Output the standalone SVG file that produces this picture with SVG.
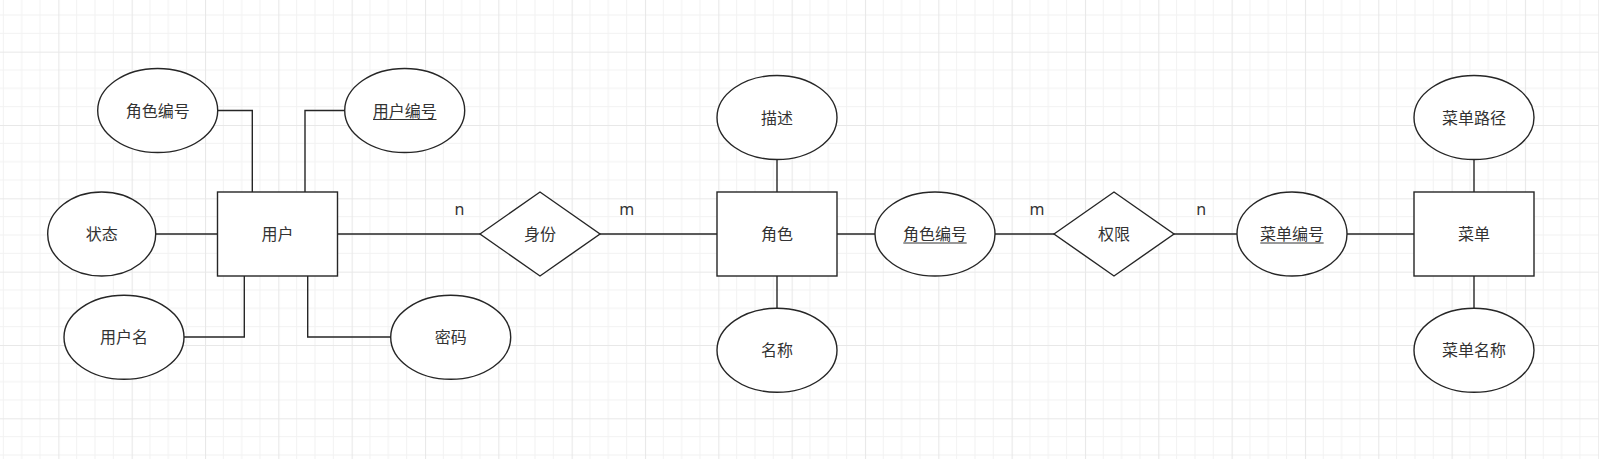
<svg xmlns="http://www.w3.org/2000/svg" width="1599" height="459" viewBox="0 0 1599 459">
<style>
.s{fill:#ffffff;stroke:#262626;stroke-width:1.4}
.c{fill:none;stroke:#262626;stroke-width:1.4}
.t{font-family:"Noto Sans CJK SC","Microsoft YaHei",sans-serif;font-size:16px;fill:#333333;text-anchor:middle}
.l{font-family:"Noto Sans","Liberation Sans",sans-serif;font-size:16px;fill:#333333;text-anchor:middle}
.u{stroke:#333333;stroke-width:1}
</style>
<defs>
<pattern id="grid" patternUnits="userSpaceOnUse" x="58.33" y="51.67" width="73.33" height="73.33">
<path d="M18.33,0V73.33M36.67,0V73.33M55,0V73.33M0,18.33H73.33M0,36.67H73.33M0,55H73.33" stroke="#f2f2f2" stroke-width="1" fill="none"/>
<path d="M0.5,0V73.33M0,0.5H73.33" stroke="#e8e8e8" stroke-width="1.2" fill="none"/>
</pattern>
</defs>
<rect width="1599" height="459" fill="#ffffff"/>
<rect width="1599" height="459" fill="url(#grid)"/>
<g id="connectors">
<path class="c" d="M217.7,110.5H252.3V192"/>
<path class="c" d="M344.7,110.5H305V192"/>
<path class="c" d="M155.7,234H217.5"/>
<path class="c" d="M184,337H244.3V276"/>
<path class="c" d="M307.7,276V337H390.7"/>
<path class="c" d="M337.5,234H480"/>
<path class="c" d="M600,234H717"/>
<path class="c" d="M777,159.5V192"/>
<path class="c" d="M777,276V308.5"/>
<path class="c" d="M837,234H875"/>
<path class="c" d="M995,234H1054"/>
<path class="c" d="M1174,234H1237"/>
<path class="c" d="M1347,234H1414"/>
<path class="c" d="M1474,159.5V192"/>
<path class="c" d="M1474,276V308.5"/>
<text class="l" x="459.5" y="215">n</text>
<text class="l" x="626.8" y="215">m</text>
<text class="l" x="1037" y="215">m</text>
<text class="l" x="1201.3" y="215">n</text>
</g>
<g id="user">
<rect class="s" x="217.5" y="192" width="120" height="84"/>
<text class="t" x="277.5" y="240">用户</text>
</g>
<g id="user-roleid">
<ellipse class="s" cx="157.7" cy="110.5" rx="60" ry="42"/>
<text class="t" x="157.7" y="116.5">角色编号</text>
</g>
<g id="user-id">
<ellipse class="s" cx="404.7" cy="110.5" rx="60" ry="42"/>
<text class="t" x="404.7" y="116.5">用户编号</text>
<line class="u" x1="373" y1="119.5" x2="436.5" y2="119.5"/>
</g>
<g id="user-status">
<ellipse class="s" cx="101.7" cy="234" rx="54" ry="42"/>
<text class="t" x="101.7" y="240">状态</text>
</g>
<g id="user-name">
<ellipse class="s" cx="124" cy="337.3" rx="60" ry="42"/>
<text class="t" x="124" y="343.3">用户名</text>
</g>
<g id="user-password">
<ellipse class="s" cx="450.7" cy="337.3" rx="60" ry="42"/>
<text class="t" x="450.7" y="343.3">密码</text>
</g>
<g id="identity">
<polygon class="s" points="480,234 540,192 600,234 540,276"/>
<text class="t" x="540" y="240">身份</text>
</g>
<g id="role">
<rect class="s" x="717" y="192" width="120" height="84"/>
<text class="t" x="777" y="240">角色</text>
</g>
<g id="role-desc">
<ellipse class="s" cx="777" cy="117.5" rx="60" ry="42"/>
<text class="t" x="777" y="123.5">描述</text>
</g>
<g id="role-name">
<ellipse class="s" cx="777" cy="350.3" rx="60" ry="42"/>
<text class="t" x="777" y="356.3">名称</text>
</g>
<g id="role-id">
<ellipse class="s" cx="935" cy="234" rx="60" ry="42"/>
<text class="t" x="935" y="240">角色编号</text>
<line class="u" x1="903.3" y1="243" x2="966.7" y2="243"/>
</g>
<g id="permission">
<polygon class="s" points="1054,234 1114,192 1174,234 1114,276"/>
<text class="t" x="1114" y="240">权限</text>
</g>
<g id="menu-id">
<ellipse class="s" cx="1292" cy="234" rx="55" ry="42"/>
<text class="t" x="1292" y="240">菜单编号</text>
<line class="u" x1="1260.3" y1="243" x2="1323.7" y2="243"/>
</g>
<g id="menu">
<rect class="s" x="1414" y="192" width="120" height="84"/>
<text class="t" x="1474" y="240">菜单</text>
</g>
<g id="menu-path">
<ellipse class="s" cx="1474" cy="117.5" rx="60" ry="42"/>
<text class="t" x="1474" y="123.5">菜单路径</text>
</g>
<g id="menu-name">
<ellipse class="s" cx="1474" cy="350.3" rx="60" ry="42"/>
<text class="t" x="1474" y="356.3">菜单名称</text>
</g>
</svg>
